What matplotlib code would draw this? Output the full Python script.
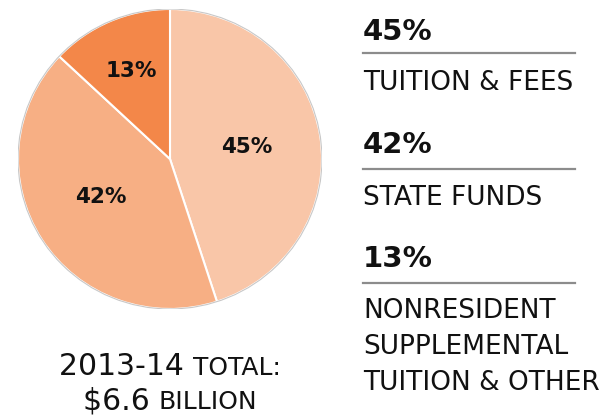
import numpy as np
import matplotlib
matplotlib.use("Agg")
import matplotlib.pyplot as plt

categories = ["TUITION & FEES", "STATE FUNDS", "NONRESIDENT\nSUPPLEMENTAL\nTUITION & OTHER"]
values = [45, 42, 13]
pct_labels = ["45%", "42%", "13%"]
colors = ["#F9C6A8", "#F7AF84", "#F38749"]
total_year = "2013-14"
total_word = "TOTAL:"
total_amount = "$6.6"
total_unit = "BILLION"

W, H = 614, 417
fig = plt.figure(figsize=(W / 100, H / 100), dpi=100)
FONT = "DejaVu Sans"
INK = "#111111"

def fx(x):
    return x / W

def fy(y):
    return 1 - y / H

# pie
cx, cy, rx, ry = 170, 159, 152, 150
ax = fig.add_axes([fx(cx - rx), fy(cy + ry), 2 * rx / W, 2 * ry / H])
wedges, _ = ax.pie(values, colors=colors, startangle=90, counterclock=False,
                   wedgeprops=dict(edgecolor="white", linewidth=1.5))
ax.set_aspect("auto")
ax.set_xlim(-1, 1)
ax.set_ylim(-1, 1)
ax.add_patch(plt.Circle((0, 0), 1.0, fill=False, edgecolor="#C8C8C8", linewidth=0.8))
dists = [0.51, 0.52, 0.64]
shift = [0, -3, 0]
for w, lab, d, s in zip(wedges, pct_labels, dists, shift):
    ang = np.deg2rad((w.theta1 + w.theta2) / 2 + s)
    ax.text(d * np.cos(ang), d * np.sin(ang), lab, ha="center", va="center",
            fontsize=15.5, fontweight="bold", family=FONT, color=INK)

# right legend column
x0, x1 = 363, 575
blocks = [(40, 53, 90), (153, 169, 205), (267, 283, 318)]
for (yp, yl, yt), pl, cat in zip(blocks, pct_labels, categories):
    fig.text(fx(x0), fy(yp), pl, ha="left", va="baseline", fontsize=21,
             fontweight="bold", family=FONT, color=INK)
    fig.add_artist(plt.Line2D([fx(x0), fx(x1)], [fy(yl), fy(yl)],
                              color="#8C8C8C", linewidth=1.6))
    for i, line in enumerate(cat.split("\n")):
        fig.text(fx(x0), fy(yt + i * 36), line, ha="left", va="baseline",
                 fontsize=19, family=FONT, color=INK)

# bottom total
fig.canvas.draw()
r = fig.canvas.get_renderer()

def two_part(big, small, ybase):
    a = fig.text(0, fy(ybase), big + " ", ha="left", va="baseline",
                 fontsize=21.5, family=FONT, color=INK)
    b = fig.text(0, fy(ybase), small, ha="left", va="baseline",
                 fontsize=18, family=FONT, color=INK)
    wa = a.get_window_extent(r).width
    wb = b.get_window_extent(r).width
    start = 170 - (wa + wb) / 2
    a.set_x(fx(start))
    b.set_x(fx(start + wa))

two_part(total_year, total_word, 375)
two_part(total_amount, total_unit, 409)

fig.savefig("out.png", dpi=100)
